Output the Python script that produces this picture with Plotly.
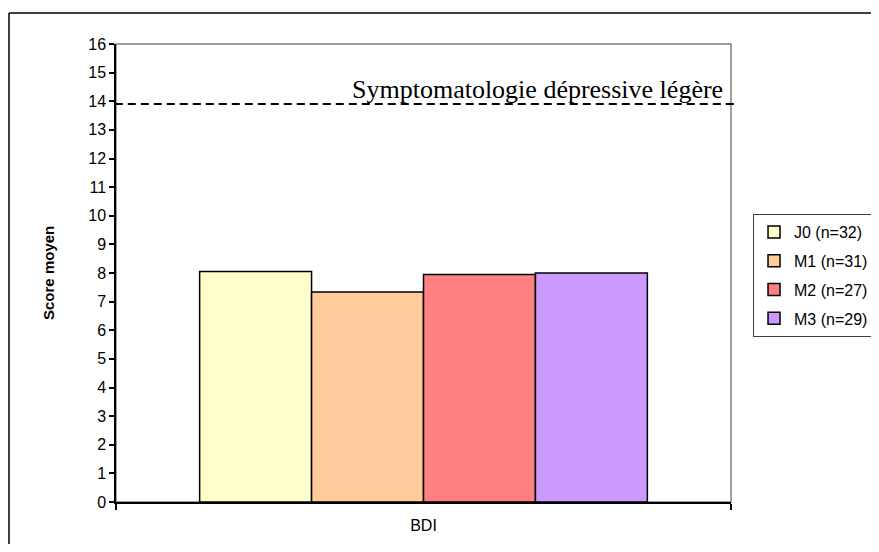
import plotly.graph_objects as go

# data
series = ["J0 (n=32)", "M1 (n=31)", "M2 (n=27)", "M3 (n=29)"]
scores = [8.05, 7.34, 7.95, 8.0]
colors = ["#FFFFCC", "#FFCC99", "#FF8080", "#CC99FF"]
category = ["BDI"]
threshold = 13.9
threshold_label = "Symptomatologie dépressive légère"
y_ticks = list(range(0, 17))

# page body has an 8px margin, so the figure is sized to fit inside the window
fig = go.Figure()
for name, val, col in zip(series, scores, colors):
    fig.add_trace(go.Bar(
        x=[0], y=[val], name=name, legendgroup=name,
        marker=dict(color=col, line=dict(color="black", width=1.5)),
    ))

# outer chart border (top and left edges only are visible)
fig.add_shape(type="line", xref="paper", yref="paper",
              x0=-0.174, x1=1.3, y0=1.0677, y1=1.0677,
              line=dict(color="black", width=1.5), layer="below")
fig.add_shape(type="line", xref="paper", yref="paper",
              x0=-0.174, x1=-0.174, y0=-0.2, y1=1.0677,
              line=dict(color="black", width=1.5), layer="below")
# plot area border (grey)
fig.add_shape(type="rect", xref="paper", yref="paper",
              x0=0, x1=1, y0=0, y1=1,
              line=dict(color="#808080", width=1.5), layer="below")
# threshold dashed line
fig.add_shape(type="line", xref="paper", yref="y",
              x0=-0.002, x1=1.008, y0=threshold, y1=threshold,
              line=dict(color="black", width=2, dash="8px,5px"))
fig.add_annotation(x=0.99, xref="paper", y=threshold, yref="y",
                   text=threshold_label, showarrow=False,
                   xanchor="right", yanchor="bottom", yshift=-2,
                   font=dict(family="Liberation Serif, Times New Roman, serif", size=26, color="black"))
fig.add_annotation(x=-0.1106, xref="paper", y=0.5, yref="paper",
                   xanchor="center", yanchor="middle",
                   text="<b>Score moyen</b>", textangle=-90, showarrow=False,
                   font=dict(family="Liberation Sans, Arial", size=15, color="black"))

fig.update_layout(
    width=863, height=536,
    margin=dict(l=108, r=140, t=36, b=42, autoexpand=False),
    paper_bgcolor="white", plot_bgcolor="white",
    barmode="group", bargap=0.272, bargroupgap=0,
    font=dict(family="Liberation Sans, Arial", size=16, color="black"),
    showlegend=True,
    legend=dict(x=1.0358, y=0.6288, xanchor="left", yanchor="top",
                bordercolor="#404040", borderwidth=1, bgcolor="white",
                tracegroupgap=5, traceorder="grouped",
                font=dict(size=16)),
    xaxis=dict(range=[-0.5, 0.5], tickvals=[0], ticktext=category,
               ticks="", showgrid=False, zeroline=False,
               showline=True, linecolor="black", linewidth=1.5,
               minor=dict(tickvals=[-0.5, 0.5], ticks="outside", ticklen=6,
                          tickcolor="black", tickwidth=1.5, showgrid=False),
               ticklabelstandoff=8),
    yaxis=dict(range=[0, 16], tickvals=y_ticks, ticks="outside", ticklen=5,
               tickcolor="black", tickwidth=1.5, showgrid=False, zeroline=False,
               showline=True, linecolor="black", linewidth=1.5),
)

fig.write_html("out.html")
